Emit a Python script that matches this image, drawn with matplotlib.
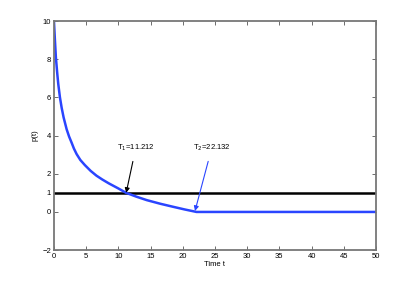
import matplotlib.pyplot as plt

# curve p(t)
t_values = [0, 0.15, 0.3, 0.5, 0.67, 0.93, 1.2, 1.5, 1.97, 2.35, 2.74, 3.1,
            3.52, 4.1, 4.81, 5.7, 6.6, 7.5, 8.5, 10.0, 11.212, 12.8, 14.4,
            16.5, 18.5, 20.3, 22.132, 50.0]
p_values = [10.0, 9.0, 8.1, 7.3, 6.7, 6.0, 5.45, 4.95, 4.33, 3.95, 3.63, 3.32,
            3.03, 2.72, 2.45, 2.15, 1.9, 1.7, 1.5, 1.23, 1.0, 0.8, 0.62,
            0.43, 0.27, 0.13, 0.0, 0.0]

threshold = 1
x_ticks = [0, 5, 10, 15, 20, 25, 30, 35, 40, 45, 50]
y_ticks = [-2, 0, 1, 2, 4, 6, 8, 10]

T1 = 11.212
T2 = 22.132

plt.rcParams["font.family"] = ["Liberation Sans", "DejaVu Sans"]

fig = plt.figure(figsize=(4.15, 2.82), dpi=100)
ax = fig.add_axes([0.130, 0.113, 0.776, 0.8125])

ax.axhline(threshold, color="black", linewidth=1.8)
ax.plot(t_values, p_values, color="#2a45ff", linewidth=1.8,
        solid_joinstyle="round")

ax.annotate(
    f"T$_1$={T1}",
    xy=(T1, 1.0),
    xytext=(12.7, 3.35),
    ha="center",
    va="center",
    fontsize=5.5,
    arrowprops=dict(arrowstyle="-|>", color="black", lw=0.8,
                    shrinkA=4, shrinkB=0, mutation_scale=7),
)
ax.annotate(
    f"T$_2$={T2}",
    xy=(21.9, 0.05),
    xytext=(24.5, 3.35),
    ha="center",
    va="center",
    fontsize=5.5,
    arrowprops=dict(arrowstyle="-|>", color="#2a45ff", lw=0.8,
                    shrinkA=4, shrinkB=0, mutation_scale=7),
)

ax.set_xlim(0, 50)
ax.set_ylim(-2, 10)
ax.set_xticks(x_ticks)
ax.set_yticks(y_ticks)
ax.tick_params(direction="in", length=3, width=0.6, labelsize=5.5,
               top=True, right=True, pad=2, colors="#555555",
               labelcolor="black")
for spine in ax.spines.values():
    spine.set_color("#777777")
    spine.set_linewidth(1.3)

ax.set_xlabel("Time t", fontsize=5.5, labelpad=1)
ax.set_ylabel("p(t)", fontsize=5.5, labelpad=3)

fig.savefig("out.png", dpi=100)
